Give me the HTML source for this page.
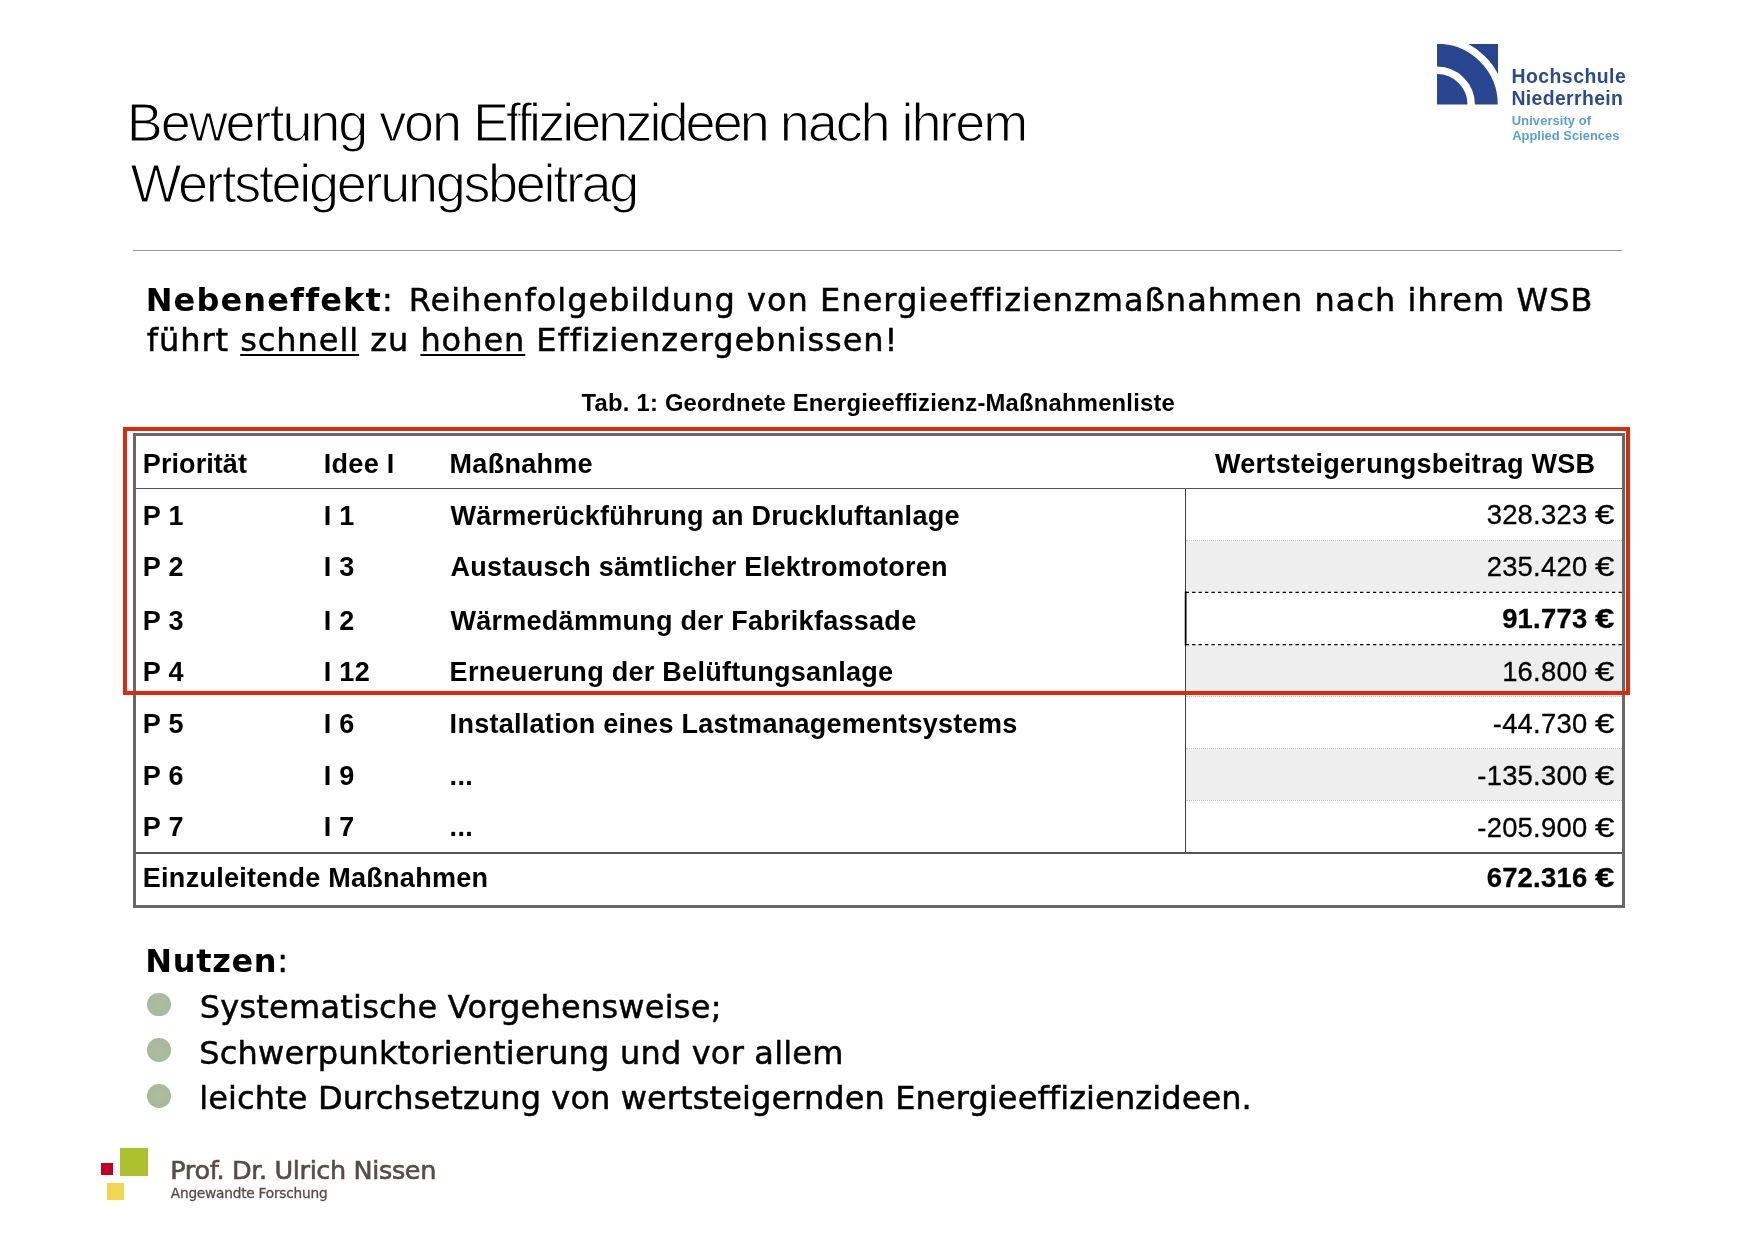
<!DOCTYPE html>
<html lang="de"><head><meta charset="utf-8"><title>Bewertung von Effizienzideen</title>
<style>
html,body{margin:0;padding:0;background:#fff;}
body{width:1754px;height:1239px;position:relative;overflow:hidden;font-family:"Liberation Sans",sans-serif;color:#000;}
.a{position:absolute;white-space:nowrap;line-height:1;}
.title{font-size:54px;color:#000;letter-spacing:-2.08px;-webkit-text-stroke:1.2px #fff;}
.vd{font-family:"DejaVu Sans",sans-serif;font-size:32px;-webkit-text-stroke:.5px #000;}
.vd b{-webkit-text-stroke:0;}
.vd u{text-decoration-thickness:1.6px;text-underline-offset:3.2px;}
.hb{font-weight:bold;font-size:27px;letter-spacing:.28px;}
.hv{font-size:27.4px;letter-spacing:.25px;text-align:right;right:139.3px;-webkit-text-stroke:.3px #000;}
.e{display:inline-block;transform:scaleX(1.27);transform-origin:100% 50%;margin-left:4.2px;letter-spacing:0;}
.box{position:absolute;box-sizing:border-box;}
.g{background:#eee;left:1186.3px;width:435.7px;}
.dot{border-top:1px dotted #c4c4c4;height:0;left:1186px;width:436px;}
.bul{width:23.7px;height:23.7px;border-radius:50%;background:radial-gradient(circle,#acbd9f 0,#a9ba9c 70%,#a0b193 100%);left:147.2px;}
</style></head><body>
<div id="page" style="position:absolute;left:0;top:0;width:1754px;height:1239px;will-change:transform;">
<!-- title -->
<div class="a title" id="t1" style="left:126.8px;top:95.4px;">Bewertung von <span style="letter-spacing:-2.95px">Effizienzideen</span> nach ihrem</div>
<div class="a title" id="t2" style="left:130.4px;top:156.4px;letter-spacing:-2.3px;">Wertsteigerungsbeitrag</div>
<div class="box" style="left:133.2px;top:249.6px;width:1488.8px;height:1.7px;background:#999;"></div>
<!-- logo HN -->
<svg class="box" style="left:1437.2px;top:44px;" width="61" height="60.5" viewBox="0 0 61 60.5">
<rect width="61" height="60.5" fill="#28468f"/>
<circle cx="0" cy="60.5" r="34.2" fill="none" stroke="#fff" stroke-width="7.4"/>
<circle cx="0" cy="60.5" r="64.4" fill="none" stroke="#fff" stroke-width="7.3"/>
</svg>
<div class="a" id="hn1" style="left:1511.4px;top:66.5px;font-weight:bold;font-size:19.4px;letter-spacing:.5px;color:#2b4a93;">Hochschule</div>
<div class="a" id="hn2" style="left:1511.4px;top:88.9px;font-weight:bold;font-size:19.4px;letter-spacing:.38px;color:#2b4a93;">Niederrhein</div>
<div class="a" id="hn3" style="left:1511.8px;top:115.3px;font-weight:bold;font-size:12.9px;letter-spacing:.1px;color:#5a9fd3;">University of</div>
<div class="a" id="hn4" style="left:1512.2px;top:129.5px;font-weight:bold;font-size:12.9px;letter-spacing:.03px;color:#5a9fd3;">Applied Sciences</div>
<!-- intro -->
<div class="a vd" id="p1" style="left:145.7px;top:284.4px;letter-spacing:1.03px;"><b style="letter-spacing:1.14px">Nebeneffekt</b>:<span style="letter-spacing:4.7px"> </span>Reihenfolgebildung von Energieeffizienzmaßnahmen nach ihrem WSB</div>
<div class="a vd" id="p2" style="left:146.8px;top:323.7px;letter-spacing:.95px;">führt <u>schnell</u> zu <u>hohen</u> Effizienzergebnissen!</div>
<div class="a" id="cap" style="left:581.6px;top:390.9px;font-weight:bold;font-size:23.8px;letter-spacing:.22px;">Tab. 1: Geordnete Energieeffizienz-Maßnahmenliste</div>
<!-- table backgrounds -->
<div class="box g" style="top:540.8px;height:51px;"></div>
<div class="box g" style="top:645.4px;height:51px;"></div>
<div class="box g" style="top:749px;height:51.3px;"></div>
<!-- table frame -->
<div class="box dot" style="top:540px;"></div>
<div class="box dot" style="top:696px;"></div>
<div class="box dot" style="top:748px;"></div>
<div class="box dot" style="top:800px;"></div>
<div class="box" style="left:1185px;top:488px;width:1.4px;height:365px;background:#444;"></div>
<svg class="box" style="left:1180px;top:585px;" width="445" height="70" viewBox="0 0 445 70">
<line x1="5.65" y1="7.4" x2="442" y2="7.4" stroke="#000" stroke-width="1.35" stroke-dasharray="3.3 3.16"/>
<line x1="5.65" y1="59.6" x2="442" y2="59.6" stroke="#000" stroke-width="1.35" stroke-dasharray="3.3 3.16"/>
<line x1="5.65" y1="6.4" x2="5.65" y2="60.3" stroke="#000" stroke-width="1.8"/>
</svg>
<div class="box" style="left:136px;top:487.6px;width:1486px;height:1.6px;background:#555;"></div>
<div class="box" style="left:136px;top:852.1px;width:1486px;height:1.6px;background:#555;"></div>
<div class="box" id="tb" style="left:133px;top:433px;width:1492px;height:475px;border:3px solid #686868;"></div>
<!-- red frame -->
<div class="box" id="red" style="left:123.2px;top:426.8px;width:1507px;height:268.3px;border:4px solid #dc2a0c;"></div>
<!-- header -->
<div class="a hb" id="h1" style="left:142.8px;top:450.7px;letter-spacing:.08px;">Priorität</div>
<div class="a hb" id="h2" style="left:323.8px;top:450.7px;">Idee I</div>
<div class="a hb" id="h3" style="left:449.6px;top:450.7px;">Maßnahme</div>
<div class="a hb" id="h4" style="left:1215px;top:450.7px;">Wertsteigerungsbeitrag WSB</div>
<!-- rows -->
<div class="a hb" id="r1a" style="left:142.8px;top:502.5px;">P 1</div><div class="a hb" style="left:323.8px;top:502.5px;">I 1</div><div class="a hb" id="r1c" style="left:450.4px;top:502.5px;">Wärmerückführung an Druckluftanlage</div><div class="a hv" id="r1d" style="top:501.4px;">328.323 <span class="e">€</span></div>
<div class="a hb" style="left:142.8px;top:553.8px;">P 2</div><div class="a hb" style="left:323.8px;top:553.8px;">I 3</div><div class="a hb" style="left:450.4px;top:553.8px;">Austausch sämtlicher Elektromotoren</div><div class="a hv" style="top:553.4px;">235.420 <span class="e">€</span></div>
<div class="a hb" style="left:142.8px;top:607.8px;">P 3</div><div class="a hb" style="left:323.8px;top:607.8px;">I 2</div><div class="a hb" style="left:450.4px;top:607.8px;">Wärmedämmung der Fabrikfassade</div><div class="a hv" style="top:605.4px;font-weight:bold;">91.773 <span class="e">€</span></div>
<div class="a hb" style="left:142.8px;top:658.6px;">P 4</div><div class="a hb" style="left:323.8px;top:658.6px;">I 12</div><div class="a hb" style="left:449.6px;top:658.6px;">Erneuerung der Belüftungsanlage</div><div class="a hv" style="top:658.4px;">16.800 <span class="e">€</span></div>
<div class="a hb" style="left:142.8px;top:710.7px;">P 5</div><div class="a hb" style="left:323.8px;top:710.7px;">I 6</div><div class="a hb" style="left:449.6px;top:710.7px;">Installation eines Lastmanagementsystems</div><div class="a hv" style="top:710.4px;">-44.730 <span class="e">€</span></div>
<div class="a hb" style="left:142.8px;top:762.7px;">P 6</div><div class="a hb" style="left:323.8px;top:762.7px;">I 9</div><div class="a hb" style="left:449.6px;top:762.7px;">...</div><div class="a hv" style="top:761.5px;">-135.300 <span class="e">€</span></div>
<div class="a hb" style="left:142.8px;top:813.7px;">P 7</div><div class="a hb" style="left:323.8px;top:813.7px;">I 7</div><div class="a hb" style="left:449.6px;top:813.7px;">...</div><div class="a hv" style="top:813.6px;">-205.900 <span class="e">€</span></div>
<div class="a hb" id="sum" style="left:142.8px;top:864.8px;">Einzuleitende Maßnahmen</div><div class="a hv" style="top:863.8px;font-weight:bold;">672.316 <span class="e">€</span></div>
<!-- Nutzen -->
<div class="a vd" id="n0" style="left:145.2px;top:945px;"><b style="letter-spacing:.7px">Nutzen</b>:</div>
<div class="box bul" style="top:992.6px;"></div>
<div class="box bul" style="top:1038.3px;"></div>
<div class="box bul" style="top:1084.2px;"></div>
<div class="a vd" id="n1" style="left:199.7px;top:990.5px;letter-spacing:.235px;">Systematische Vorgehensweise;</div>
<div class="a vd" id="n2" style="left:199.3px;top:1036.5px;letter-spacing:.19px;">Schwerpunktorientierung und vor allem</div>
<div class="a vd" id="n3" style="left:199.3px;top:1081.6px;letter-spacing:.11px;">leichte Durchsetzung von wertsteigernden Energieeffizienzideen.</div>
<!-- footer logo -->
<div class="box" style="left:120.2px;top:1148.2px;width:27.7px;height:27.8px;background:#abc22e;"></div>
<div class="box" style="left:101px;top:1163px;width:11.9px;height:11.9px;background:#c00028;"></div>
<div class="box" style="left:107.1px;top:1183px;width:16.8px;height:16.9px;background:#f3d650;"></div>
<div class="a" id="f1" style="left:170.3px;top:1157.6px;font-size:25.5px;letter-spacing:-.36px;color:#574c47;-webkit-text-stroke:.6px #574c47;font-family:'DejaVu Sans',sans-serif;">Prof. Dr. Ulrich Nissen</div>
<div class="a" id="f2" style="left:170.8px;top:1187.1px;font-size:13.7px;letter-spacing:-.22px;color:#574c47;-webkit-text-stroke:.3px #574c47;font-family:'DejaVu Sans',sans-serif;">Angewandte Forschung</div>
</div>
</body></html>
